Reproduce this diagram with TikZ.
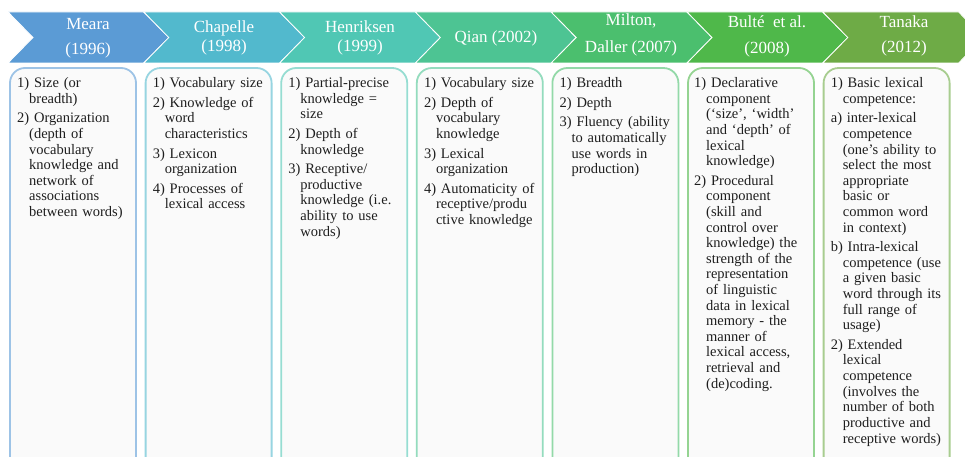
\documentclass[tikz,border=0pt]{standalone}
\usepackage{fontspec}
\setmainfont{Liberation Serif}
\definecolor{c1}{HTML}{5B9BD5}
\definecolor{c2}{HTML}{52B9CD}
\definecolor{c3}{HTML}{50C7B4}
\definecolor{c4}{HTML}{4DC493}
\definecolor{c5}{HTML}{4BBF6E}
\definecolor{c6}{HTML}{4FB84A}
\definecolor{c7}{HTML}{6EAB46}
\definecolor{txt}{HTML}{1E1E1E}
\definecolor{boxfill}{HTML}{FAFAFA}
\newcommand\itm{\par\hangindent=12pt\hangafter=1\noindent}
\newcommand\bodyfont{\fontsize{14.5pt}{15.6pt}\selectfont}
\newcommand\chev[2]{\fill[#2,draw=white,line width=0.8pt] (#1,12) -- ++(135.8,0) -- ++(25,25.5) -- ++(-25,25.5) -- ++(-135.8,0) -- ++(25,-25.5) -- cycle;}
\newcommand\colbox[2]{\draw[colframe,draw=#2!60!white] (#1,68) rectangle ++(126,420);}
\tikzset{
  chevtext/.style={text=white,align=center,inner sep=0pt},
  colframe/.style={fill=boxfill,line width=1.8pt,rounded corners=15pt},
  bodytext/.style={anchor=north west,inner sep=0pt,text width=150pt,text=txt,
    font=\bodyfont\raggedright\setlength{\parskip}{4pt}}
}
\begin{document}
\begin{tikzpicture}[x=1pt,y=-1pt]
\useasboundingbox (0,0) rectangle (965,457);
\fill[white] (0,0) rectangle (965,457);
\clip (0,0) rectangle (965,457);
% chevrons
\chev{8}{c1}
\chev{143.8}{c2}
\chev{279.6}{c3}
\chev{415.4}{c4}
\chev{551.2}{c5}
\chev{687}{c6}
\chev{822.8}{c7}
\node[chevtext,font=\fontsize{17pt}{25pt}\selectfont] (h1) at (88,38) {Meara\\(1996)};
\node[chevtext,font=\fontsize{17pt}{19pt}\selectfont] (h2) at (224,38) {Chapelle\\(1998)};
\node[chevtext,font=\fontsize{17pt}{19pt}\selectfont] (h3) at (360,38) {Henriksen\\(1999)};
\node[chevtext,font=\fontsize{17pt}{19pt}\selectfont] (h4) at (496,38) {Qian (2002)};
\node[chevtext,font=\fontsize{17pt}{27pt}\selectfont] (h5) at (631,35) {Milton,\\Daller (2007)};
\node[chevtext,font=\fontsize{17pt}{26pt}\selectfont] (h6) at (767,36) {Bulté~~et al.\\(2008)};
\node[chevtext,font=\fontsize{17pt}{25pt}\selectfont] (h7) at (904,36) {Tanaka\\(2012)};
% boxes
\colbox{10}{c1}
\colbox{145.6}{c2}
\colbox{281.2}{c3}
\colbox{416.8}{c4}
\colbox{552.4}{c5}
\colbox{688}{c6}
\colbox{823.6}{c7}
% texts
\node[bodytext] (b1) at (17,68) {\itm 1) Size (or\newline breadth)
\itm 2) Organization\newline (depth of\newline vocabulary\newline knowledge and\newline network of\newline associations\newline between words)\par};
\node[bodytext] (b2) at (152.6,68) {\itm 1) Vocabulary size
\itm 2) Knowledge of\newline word\newline characteristics
\itm 3) Lexicon\newline organization
\itm 4) Processes of\newline lexical access\par};
\node[bodytext] (b3) at (288.2,68) {\itm 1) Partial-precise\newline knowledge =\newline size
\itm 2) Depth of\newline knowledge
\itm 3) Receptive/\newline productive\newline knowledge (i.e.\newline ability to use\newline words)\par};
\node[bodytext] (b4) at (423.8,68) {\itm 1) Vocabulary size
\itm 2) Depth of\newline vocabulary\newline knowledge
\itm 3) Lexical\newline organization
\itm 4) Automaticity of\newline receptive/produ\newline ctive knowledge\par};
\node[bodytext] (b5) at (559.4,68) {\itm 1) Breadth
\itm 2) Depth
\itm 3) Fluency (ability\newline to automatically\newline use words in\newline production)\par};
\node[bodytext] (b6) at (694,68) {\itm 1) Declarative\newline component\newline (‘size’, ‘width’\newline and ‘depth’ of\newline lexical\newline knowledge)
\itm 2) Procedural\newline component\newline (skill and\newline control over\newline knowledge) the\newline strength of the\newline representation\newline of linguistic\newline data in lexical\newline memory - the\newline manner of\newline lexical access,\newline retrieval and\newline (de)coding.\par};
\node[bodytext] (b7) at (830.6,68) {\itm 1) Basic lexical\newline competence:
\itm a) inter-lexical\newline competence\newline (one’s ability to\newline select the most\newline appropriate\newline basic or\newline common word\newline in context)
\itm b) Intra-lexical\newline competence (use\newline a given basic\newline word through its\newline full range of\newline usage)
\itm 2) Extended\newline lexical\newline competence\newline (involves the\newline number of both\newline productive and\newline receptive words)\par};
\end{tikzpicture}
\end{document}
